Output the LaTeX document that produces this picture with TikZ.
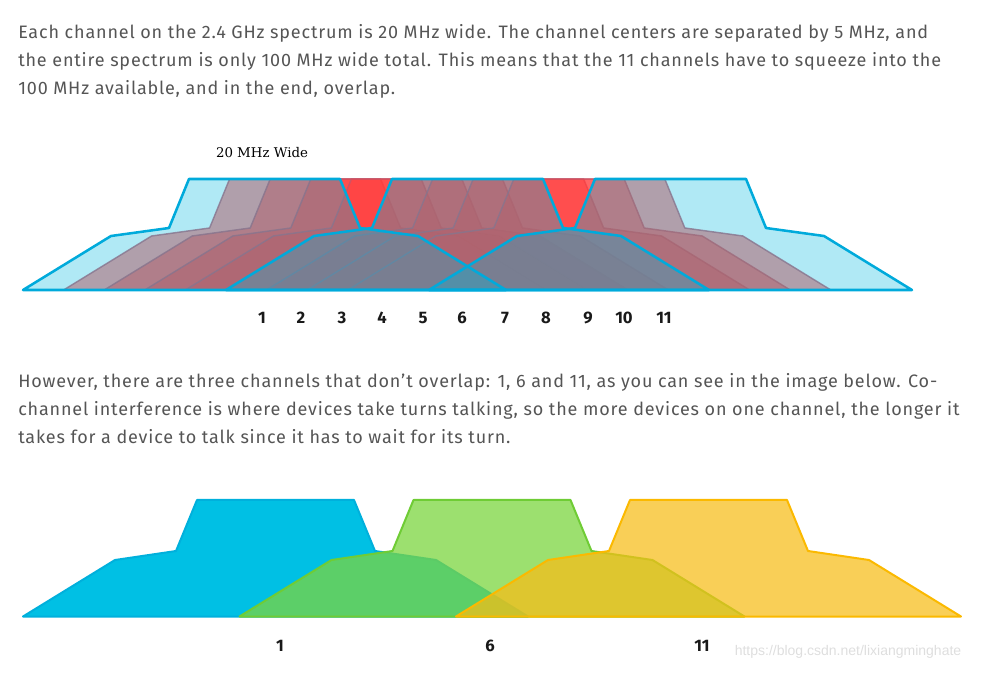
\documentclass[tikz,border=0pt]{standalone}
\usepackage{fontspec}
\setmainfont{Fira Sans}[LetterSpace=4.6]
\newfontfamily\widefont{DejaVu Serif}
\newfontfamily\urlfont{Liberation Sans}
\newfontfamily\numfont{Fira Sans}
\usepackage{tikz}
\usetikzlibrary{positioning}
\usepackage{xcolor}
\definecolor{chanred}{HTML}{FF3D3D}
\definecolor{chanredline}{HTML}{C4566A}
\definecolor{chanblue}{HTML}{00B9DE}
\definecolor{chanblueline}{HTML}{00AADB}
\definecolor{nonblue}{HTML}{00C0E4}
\definecolor{nonblueline}{HTML}{00B0DC}
\definecolor{nongreen}{HTML}{7BD53F}
\definecolor{nongreenline}{HTML}{6FCC35}
\definecolor{nonyellow}{HTML}{F7BD16}
\definecolor{nonyellowline}{HTML}{FBB900}
\definecolor{bodygrey}{HTML}{555555}

% channel masks, centre given in px
\newcommand{\topchan}[1]{({#1-241.5},290) -- ({#1-153.5},236) -- ({#1-95.5},228)
  -- ({#1-75.5},179) -- ({#1+75.5},179) -- ({#1+95.5},228) -- ({#1+153.5},236)
  -- ({#1+241.5},290) -- cycle}
\newcommand{\botchan}[1]{({#1-252.5},616.5) -- ({#1-160.5},560) -- ({#1-99.5},551)
  -- ({#1-78.5},500) -- ({#1+78.5},500) -- ({#1+99.5},551) -- ({#1+160.5},560)
  -- ({#1+252.5},616.5) -- cycle}

\tikzset{
  bodytext/.style={
    font=\fontsize{13.5}{21}\selectfont, text=bodygrey,
    align=left, inner sep=0pt, anchor=base west
  },
  numlabel/.style={
    font=\numfont\fontsize{12.5}{14}\selectfont\bfseries, text=black!90,
    inner sep=0pt
  },
  redchan/.style={
    fill=chanred, fill opacity=0.55, draw=chanredline, draw opacity=0.8,
    line width=1.1pt, line join=round
  },
  bluefill/.style={fill=chanblue, fill opacity=0.31},
  blueline/.style={draw=chanblueline, line width=1.9pt, line join=round},
  nonchan/.style={
    fill=#1, draw=#1line, line width=1.5pt, line join=round
  }
}

\begin{document}
\begin{tikzpicture}[x=0.75pt, y=-0.75pt]
    \useasboundingbox (0,0) rectangle (986,673);

    % Texto (base = ultima linea)
    \node[bodytext] (intro) at (18,95)
      {Each channel on the 2.4 GHz spectrum is 20 MHz wide. The channel centers are separated by 5 MHz, and\\
       the entire spectrum is only 100 MHz wide total. This means that the 11 channels have to squeeze into the\\
       100 MHz available, and in the end, overlap.};
    \node[bodytext] (however) at (18,444)
      {However, there are three channels that don’t overlap: 1, 6 and 11, as you can see in the image below. Co-\\
       channel interference is where devices take turns talking, so the more devices on one channel, the longer it\\
       takes for a device to talk since it has to wait for its turn.};

    \node[font=\widefont\fontsize{10}{11}\selectfont, inner sep=0pt] (wide) at (262,153) {20 MHz Wide};

    % Canales solapados
    \foreach \k in {2,3,4,5,7,8,9}{%
      \pgfmathsetmacro{\c}{264.5+40.6*(\k-1)}
      \draw[redchan] \topchan{\c};}
    \foreach \k in {1,6,11}{%
      \pgfmathsetmacro{\c}{264.5+40.6*(\k-1)}
      \fill[bluefill] \topchan{\c};}
    \foreach \k in {1,6,11}{%
      \pgfmathsetmacro{\c}{264.5+40.6*(\k-1)}
      \draw[blueline] \topchan{\c};}

    \foreach \n/\x in {1/262, 2/301, 3/342, 4/382, 5/423, 6/462,
                       7/505, 8/546, 9/588, 10/624, 11/664}{%
      \node[numlabel] (top\n) at (\x,318) {\n};}

    % Canales 1, 6 y 11
    \filldraw[nonchan=nonblue] \botchan{275.5};
    \filldraw[nonchan=nongreen, fill opacity=0.75] \botchan{492};
    \filldraw[nonchan=nonyellow, fill opacity=0.72] \botchan{708.5};

    \node[numlabel] (bot1) at (280,646) {1};
    \node[numlabel] (bot6) at (490,646) {6};
    \node[numlabel] (bot11) at (702,646) {11};

    \node[font=\urlfont\fontsize{10.5}{12}\selectfont, text=black!13, inner sep=0pt]
      (mark) at (848,652) {https://blog.csdn.net/lixiangminghate};
\end{tikzpicture}
\end{document}
